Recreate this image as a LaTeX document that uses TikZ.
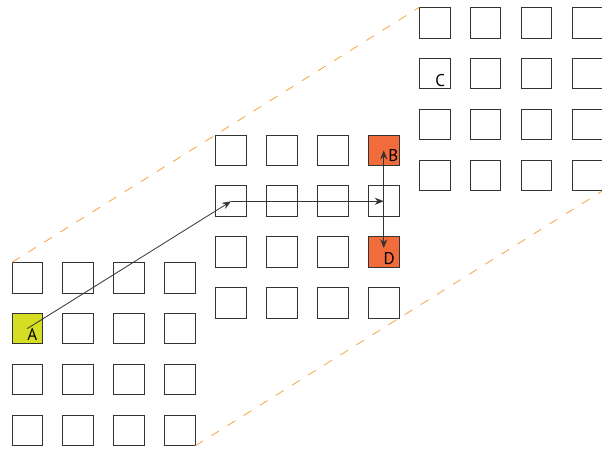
\documentclass[tikz,border=0pt]{standalone}
\usepackage{fontspec}
\setmainfont{PT Sans}
\usetikzlibrary{arrows.meta}
\definecolor{myLime}{HTML}{D5DE22}
\definecolor{myOrange}{HTML}{F26B3A}
\definecolor{dashOrange}{HTML}{F7A23F}
\definecolor{lineGray}{HTML}{333333}
\begin{document}
\begin{tikzpicture}[x=1pt,y=-1pt,
  cell/.style={draw=lineGray, line width=0.9pt, minimum size=30.7pt, inner sep=0pt, outer sep=0pt, anchor=north west},
  c121/.style={fill=myLime},
  c214/.style={fill=myOrange},
  c234/.style={fill=myOrange},
  dashline/.style={draw=dashOrange, line width=0.8pt, dash pattern=on 9pt off 10pt},
  conn/.style={draw=lineGray, line width=0.8pt, -{Stealth[length=9pt,width=7pt]}},
  lab/.style={font=\fontsize{17}{17}\selectfont, inner sep=0pt, text=black}]
\useasboundingbox (0,0) rectangle (602,448);
\foreach \g/\ox/\oy in {1/12/262.3, 2/215.7/135, 3/419.3/7.3}
  \foreach \r in {1,...,4}
    \foreach \c in {1,...,4}
      \node[cell, c\g\r\c/.try] (g\g-\r-\c) at ({\ox+(\c-1)*50.9}, {\oy+(\r-1)*50.9}) {};
\draw[dashline] (g1-1-1.north west) -- (g3-1-1.north west);
\draw[dashline] (g1-4-4.south east) -- (g3-4-4.south east);
\draw[conn] (g1-2-1.center) -- (g2-2-1.center);
\draw[conn] (g2-2-1.center) -- (g2-2-4.center);
\draw[conn] (g2-2-4.center) -- (g2-1-4.center);
\draw[conn, shorten >=4pt] (g2-2-4.center) -- (g2-3-4.center);
\node[lab] (labA) at ([shift={(5,6)}]g1-2-1.center) {A};
\node[lab] (labB) at ([shift={(9.5,5)}]g2-1-4.center) {B};
\node[lab] (labC) at ([shift={(5.5,6.5)}]g3-2-1.center) {C};
\node[lab] (labD) at ([shift={(5.5,6)}]g2-3-4.center) {D};
\end{tikzpicture}
\end{document}
